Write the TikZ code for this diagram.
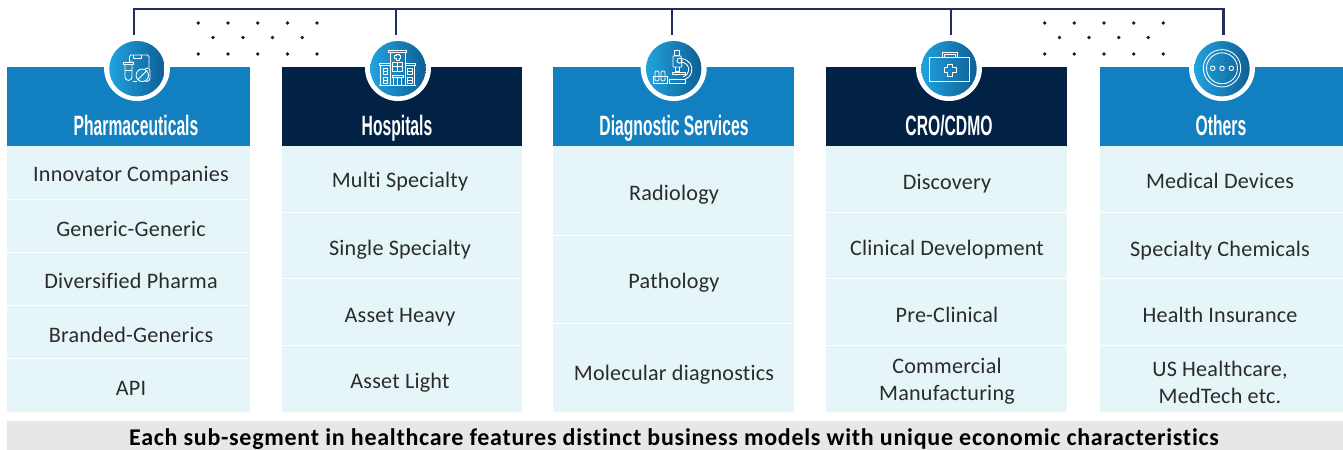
\documentclass[tikz,border=0pt]{standalone}
\usepackage{fontspec}
\setmainfont{Carlito}
\newfontfamily\bodyf[LetterSpace=1,Ligatures=NoCommon]{Carlito}
\newfontfamily\headf[FakeStretch=0.56]{Liberation Sans}
\newfontfamily\footf[LetterSpace=3,Ligatures=NoCommon]{Carlito}
\definecolor{blueh}{HTML}{127FC0}
\definecolor{navyh}{HTML}{012245}
\definecolor{cellc}{HTML}{E6F5F7}
\definecolor{barc}{HTML}{E6E7E8}
\definecolor{linec}{HTML}{232C5E}
\definecolor{dotc}{HTML}{141C35}
\definecolor{gradl}{HTML}{22A2DE}
\definecolor{gradr}{HTML}{0E5F94}
\definecolor{txt}{HTML}{2B2B2B}
\tikzset{
  boxn/.style={draw=none,inner sep=0pt,outer sep=0pt,anchor=north west},
  lab/.style={font=\bodyf\fontsize{16.6pt}{20pt}\selectfont,text=txt,align=center,inner sep=0pt,anchor=base},
  head/.style={font=\headf\bfseries\fontsize{21pt}{24pt}\selectfont,text=white,inner sep=0pt,anchor=base},
  ring/.style={circle,fill=white,minimum size=49.5pt,inner sep=0pt},
  disc/.style={circle,minimum size=41.6pt,inner sep=0pt,left color=gradl,right color=gradr,shading angle=90},
  bus/.style={draw=linec,line width=2.1pt,line join=miter},
  ico/.style={draw=white,line width=0.65pt,line join=round},
  dotn/.style={circle,fill=dotc,minimum size=2.8pt,inner sep=0pt}
}
\newcommand{\cellbox}[5]{\node[boxn,fill=cellc,minimum width=#4*0.75pt-#2*0.75pt,minimum height=#5*0.75pt-#3*0.75pt] (#1) at (#2,#3) {};}
\newcommand{\headbox}[6]{\node[boxn,fill=#6,minimum width=#4*0.75pt-#2*0.75pt,minimum height=#5*0.75pt-#3*0.75pt] (#1) at (#2,#3) {};}
\begin{document}
\begin{tikzpicture}[x=0.75pt,y=-0.75pt]
\useasboundingbox (0,0) rectangle (1343,450);
% headers
\headbox{h1}{7}{67}{250}{146}{blueh}
\headbox{h2}{282}{67}{522}{146}{navyh}
\headbox{h3}{553}{67}{794}{146}{blueh}
\headbox{h4}{826}{67}{1067}{146}{navyh}
\headbox{h5}{1100}{67}{1343}{146}{blueh}
% cells column 1
\cellbox{a1}{7}{146}{250}{198.8}
\cellbox{a2}{7}{199.8}{250}{251.6}
\cellbox{a3}{7}{252.6}{250}{304.8}
\cellbox{a4}{7}{305.8}{250}{358.4}
\cellbox{a5}{7}{359.4}{250}{412}
% column 2
\cellbox{b1}{282}{146}{522}{212}
\cellbox{b2}{282}{213}{522}{278}
\cellbox{b3}{282}{279}{522}{345}
\cellbox{b4}{282}{346}{522}{412}
% column 3
\cellbox{c1}{553}{146}{794}{234.5}
\cellbox{c2}{553}{235.5}{794}{322.5}
\cellbox{c3}{553}{323.5}{794}{412}
% column 4
\cellbox{d1}{826}{146}{1067}{212}
\cellbox{d2}{826}{213}{1067}{278}
\cellbox{d3}{826}{279}{1067}{345}
\cellbox{d4}{826}{346}{1067}{412}
% column 5
\cellbox{e1}{1100}{146}{1343}{212}
\cellbox{e2}{1100}{213}{1343}{278}
\cellbox{e3}{1100}{279}{1343}{345}
\cellbox{e4}{1100}{346}{1343}{412}
% footer
\node[boxn,fill=barc,minimum width=1002pt,minimum height=21.75pt] (bar) at (7,421) {};
\node[font=\footf\bfseries\fontsize{18pt}{20pt}\selectfont,text=black,inner sep=0pt,anchor=base] (barT) at (674,445) {Each sub-segment in healthcare features distinct business models with unique economic characteristics};
% connectors
\coordinate (t1) at (134,35); \coordinate (t2) at (396,35); \coordinate (t3) at (672,35);
\coordinate (t4) at (951,35); \coordinate (t5) at (1223.5,35);
\coordinate (k1) at (134,9); \coordinate (k2) at (396,9); \coordinate (k3) at (672,9);
\coordinate (k4) at (951,9); \coordinate (k5) at (1223.5,9);
\draw[bus] (t1) -- (k1) -- (k5) -- (t5);
\draw[bus] (k2) -- (t2);
\draw[bus] (k3) -- (t3);
\draw[bus] (k4) -- (t4);
% dots
\foreach \i/\xa in {1/198.3,2/228,3/257.7,4/287.4,5/317,6/1044.7,7/1074.3,8/1104,9/1133.7,10/1163.3}{
  \node[dotn] (du\i) at (\xa,23) {};
  \node[dotn] (dl\i) at (\xa,54) {};
}
\foreach \i/\xa in {1/213,2/243,3/272.6,4/302.2,5/1059.5,6/1089,7/1118.7,8/1148.3}{
  \node[dotn] (dm\i) at (\xa,37.5) {};
}
% rings and discs
\node[ring] (r1) at (137,68) {}; \node[disc] (i1) at (137,68.7) {};
\node[ring] (r2) at (398,68) {}; \node[disc] (i2) at (398,68.7) {};
\node[ring] (r3) at (673.7,68) {}; \node[disc] (i3) at (673.7,68.7) {};
\node[ring] (r4) at (949,68) {}; \node[disc] (i4) at (949,68.7) {};
\node[ring] (r5) at (1222,68) {}; \node[disc] (i5) at (1222,68.7) {};
% icon 1: clipboard, tube, pill
\draw[ico] (133,62) -- (129.5,62) -- (129.5,56.5) -- (131,55) -- (147.5,55) -- (149,56.5) -- (149,68);
\draw[ico] (133.5,55) -- (133.5,58.5) -- (141.5,58.5) -- (141.5,55);
\draw[ico] (123.5,62.5) rectangle (133,64.5);
\draw[ico] (125,64.5) -- (125,77) arc[start angle=180,end angle=360,x radius=2.6pt,y radius=2.6pt] -- (132,64.5);
\draw[ico] (125,70) -- (132,70);
\draw[ico,rounded corners=2.5pt] (144,68) rectangle (150,81.5);
\draw[ico,fill=gradr!35!gradl] (142.3,75.3) circle[radius=4.7pt];
\draw[ico] (138,79.5) -- (146.6,71);
\draw[ico] (133,81) -- (137,81);
% icon 2: hospital
\draw[ico] (388.5,50) rectangle (406.5,52.5);
\draw[ico] (390,52.5) -- (390,85) (405,52.5) -- (405,85);
\draw[ico] (396,54) -- (399,54) -- (399,55.7) -- (400.7,55.7) -- (400.7,58.3) -- (399,58.3) -- (399,60) -- (396,60) -- (396,58.3) -- (394.3,58.3) -- (394.3,55.7) -- (396,55.7) -- cycle;
\draw[ico] (392.5,62) rectangle (402.5,71.5);
\draw[ico] (397.5,62) -- (397.5,71.5) (392.5,66.5) -- (402.5,66.5);
\draw[ico] (379.5,63.5) rectangle (390,65.5);
\draw[ico] (405,63.5) rectangle (415.5,65.5);
\draw[ico] (380.5,65.5) -- (380.5,85) (414.5,65.5) -- (414.5,85);
\draw[ico] (383,68.5) rectangle (387.5,74);
\draw[ico] (383,77.5) rectangle (387.5,83);
\draw[ico] (407.5,68.5) rectangle (412,74);
\draw[ico] (407.5,77.5) rectangle (412,83);
\draw[ico] (383,71.2) -- (387.5,71.2) (383,80.2) -- (387.5,80.2) (407.5,71.2) -- (412,71.2) (407.5,80.2) -- (412,80.2);
\draw[ico] (392,75.5) rectangle (403,77.5);
\draw[ico] (393.5,77.5) -- (393.5,85) (397.5,77.5) -- (397.5,85) (401.5,77.5) -- (401.5,85);
\draw[ico] (379,85) -- (416,85);
% icon 3: microscope
\draw[ico] (674.5,50.7) rectangle (679.5,55);
\draw[ico] (673,56) -- (681,56) -- (682,67) -- (673,67) -- cycle;
\draw[ico] (675,67) -- (675,71) -- (679.5,71) -- (679.5,67);
\draw[ico] (679.5,60.7) circle[radius=1.9pt];
\draw[ico] (681.5,58.5) .. controls (690,60) and (693,66) .. (691.5,72) .. controls (690.5,76) and (688,78) .. (685,79.5);
\draw[ico] (681.5,62) .. controls (687,63) and (689.5,67) .. (688.5,71) .. controls (688,74) and (686,76) .. (683,77);
\draw[ico] (672.5,72.5) -- (685.5,72.5) -- (685.5,74) -- (672.5,74) -- cycle;
\draw[ico] (669.5,79) rectangle (685,83);
\draw[ico] (653.5,76) rectangle (667,83);
\draw[ico,rounded corners=1pt] (655,71) -- (655,81) -- (659,81) -- (659,71) -- cycle;
\draw[ico,rounded corners=1pt] (661,71) -- (661,81) -- (665,81) -- (665,71) -- cycle;
% icon 4: briefcase
\draw[ico] (929,57.5) rectangle (969.5,81.5);
\draw[ico] (942.5,57.5) -- (942.5,52.3) -- (957,52.3) -- (957,57.5);
\draw[ico] (944.5,57.5) -- (944.5,54.3) -- (955,54.3) -- (955,57.5);
\draw[ico] (947.8,64) -- (952.2,64) -- (952.2,67.8) -- (956,67.8) -- (956,72.2) -- (952.2,72.2) -- (952.2,76) -- (947.8,76) -- (947.8,72.2) -- (944,72.2) -- (944,67.8) -- (947.8,67.8) -- cycle;
% icon 5: others
\draw[ico] (1222,68.3) circle[radius=14pt];
\draw[ico] (1222,68.3) circle[radius=11.6pt];
\draw[ico] (1212.7,68.3) circle[radius=1.7pt];
\draw[ico] (1222,68.3) circle[radius=1.7pt];
\draw[ico] (1231.3,68.3) circle[radius=1.7pt];
% header text
\node[head] (p1) at (136,135) {Pharmaceuticals};
\node[head] (p2) at (397,135) {Hospitals};
\node[head] (p3) at (674,135) {Diagnostic Services};
\node[head] (p4) at (949,135) {CRO/CDMO};
\node[head] (p5) at (1221,135) {Others};
% labels
\node[lab] (la1) at (131,181) {Innovator Companies};
\node[lab] (la2) at (131,236) {Generic-Generic};
\node[lab] (la3) at (131,288) {Diversified Pharma};
\node[lab] (la4) at (131,342) {Branded-Generics};
\node[lab] (la5) at (131,395) {API};
\node[lab] (lb1) at (400,187) {Multi Specialty};
\node[lab] (lb2) at (400,255) {Single Specialty};
\node[lab] (lb3) at (400,322) {Asset Heavy};
\node[lab] (lb4) at (400,388) {Asset Light};
\node[lab] (lc1) at (674,200) {Radiology};
\node[lab] (lc2) at (674,288) {Pathology};
\node[lab] (lc3) at (674,380) {Molecular diagnostics};
\node[lab] (ld1) at (947,189) {Discovery};
\node[lab] (ld2) at (947,255) {Clinical Development};
\node[lab] (ld3) at (947,322) {Pre-Clinical};
\node[lab] (ld4) at (947,400) {Commercial\\Manufacturing};
\node[lab] (le1) at (1220,188) {Medical Devices};
\node[lab] (le2) at (1220,256) {Specialty Chemicals};
\node[lab] (le3) at (1220,322) {Health Insurance};
\node[lab] (le4) at (1220,403.5) {US Healthcare,\\MedTech etc.};
\end{tikzpicture}
\end{document}
